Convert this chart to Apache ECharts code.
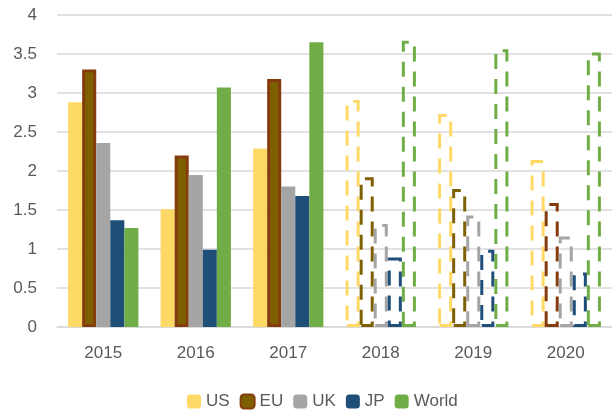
<!DOCTYPE html>
<html><head><meta charset="utf-8">
<script src="https://cdn.jsdelivr.net/npm/echarts@6/dist/echarts.min.js"></script>
<style>html,body{margin:0;padding:0;background:#fff}#c{width:612px;height:410px}</style>
</head><body><div id="c"></div>
<script>
const years = ['2015','2016','2017','2018','2019','2020'];
const projected = [false,false,false,true,true,true];
const US = [2.88, 1.51, 2.29, 2.91, 2.73, 2.14];
const EU = [3.30, 2.20, 3.18, 1.92, 1.77, 1.59];
const UK = [2.36, 1.95, 1.80, 1.32, 1.43, 1.16];
const JP = [1.37, 0.99, 1.68, 0.89, 0.99, 0.70];
const World = [1.27, 3.07, 3.65, 3.67, 3.56, 3.52];
const yTicks = [0, 0.5, 1, 1.5, 2, 2.5, 3, 3.5, 4];

const font = '"Liberation Sans", "DejaVu Sans", sans-serif';
function mk(name, vals, fill, border, bw, dashBorders) {
  return {
    name, type: 'bar', barGap: '0%', barCategoryGap: '24%',
    itemStyle: { color: fill, borderColor: border, borderWidth: bw },
    data: vals.map((v, i) => projected[i] ? {
      value: v,
      itemStyle: { color: 'rgba(0,0,0,0)', borderColor: dashBorders[i], borderWidth: 3, borderType: [15, 10] }
    } : v)
  };
}
const chart = echarts.init(document.getElementById('c'));
chart.setOption({
  animation: false,
  textStyle: { fontFamily: font },
  grid: { left: 57, right: 0, top: 15, bottom: 83 },
  legend: {
    top: 388, left: 182, itemWidth: 14, itemHeight: 14, itemGap: 10,
    textStyle: { fontSize: 17, color: '#595959', fontFamily: font },
    data: ['US','EU','UK','JP','World']
  },
  xAxis: {
    type: 'category', data: years,
    axisLine: { lineStyle: { color: '#D9D9D9', width: 1.5 } },
    axisTick: { show: false },
    axisLabel: { fontSize: 17, color: '#595959', margin: 18 }
  },
  yAxis: {
    type: 'value', min: 0, max: 4, interval: 0.5,
    axisLabel: { fontSize: 17, color: '#595959', margin: 20, formatter: v => String(v) },
    splitLine: { lineStyle: { color: '#D9D9D9', width: 1.5 } }
  },
  series: [
    mk('US', US, '#FFD966', '#FFD966', 0, years.map(() => '#FFD966')),
    mk('EU', EU, '#7F6000', '#843C0C', 3, ['#7F6000','#7F6000','#7F6000','#7F6000','#7F6000','#843C0C']),
    mk('UK', UK, '#A5A5A5', '#A5A5A5', 0, years.map(() => '#A5A5A5')),
    mk('JP', JP, '#1F4E79', '#1F4E79', 0, years.map(() => '#1F4E79')),
    mk('World', World, '#70AD47', '#70AD47', 0, years.map(() => '#70AD47'))
  ]
});
</script></body></html>
